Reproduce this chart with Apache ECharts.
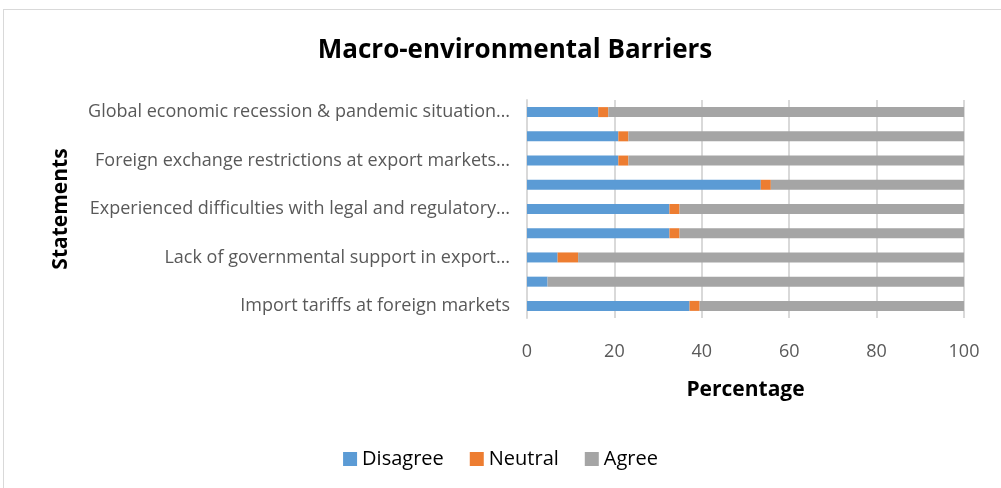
<!DOCTYPE html>
<html lang="en">
<head>
    <meta charset="UTF-8">
    <title>Macro-environmental Barriers</title>
    <script src="https://cdn.jsdelivr.net/npm/echarts@6/dist/echarts.min.js"></script>
    <style>
        body { margin: 0; background: #fff; }
        #frame {
            position: absolute; left: 3px; top: 9px; width: 1010px; height: 490px;
            border: 1px solid #d9d9d9; box-sizing: border-box;
        }
        #chart { position: absolute; left: 0; top: 0; width: 1001px; height: 488px; }
    </style>
</head>
<body>
<div id="frame"></div>
<div id="chart"></div>
<script>
    // statements, bottom to top (Excel only shows every other label)
    var statements = [
        'Import tariffs at foreign markets',
        'Statement 2',
        'Lack of governmental support in export\u2026',
        'Statement 4',
        'Experienced difficulties with legal and regulatory\u2026',
        'Statement 6',
        'Foreign exchange restrictions at export markets\u2026',
        'Statement 8',
        'Global economic recession & pandemic situation\u2026'
    ];
    var disagree = [37.2, 4.7, 7.0, 32.6, 32.6, 53.5, 20.9, 20.9, 16.3];
    var neutral  = [2.3, 0, 4.7, 2.3, 2.3, 2.3, 2.3, 2.3, 2.3];
    var agree    = [60.5, 95.3, 88.3, 65.1, 65.1, 44.2, 76.8, 76.8, 81.4];
    var xTicks = [0, 20, 40, 60, 80, 100];

    var font = 'Open Sans';
    var chart = echarts.init(document.getElementById('chart'));
    chart.setOption({
        animation: false,
        color: ['#5b9bd5', '#ed7d31', '#a5a5a5'],
        title: {
            text: 'Macro-environmental Barriers',
            left: 510, top: 33, textAlign: 'center',
            textStyle: { fontFamily: font, fontSize: 26, fontWeight: 'bold', color: '#000' }
        },
        legend: {
            bottom: 14, left: 'center',
            itemWidth: 14, itemHeight: 14, itemGap: 26, icon: 'rect',
            textStyle: { fontFamily: font, fontSize: 20, color: '#000' },
            data: ['Disagree', 'Neutral', 'Agree']
        },
        grid: { left: 527, right: 37, top: 100, height: 218, containLabel: false },
        xAxis: {
            type: 'value', min: xTicks[0], max: xTicks[xTicks.length - 1], interval: 20,
            name: 'Percentage', nameLocation: 'middle', nameGap: 62,
            nameTextStyle: { fontFamily: font, fontSize: 21, fontWeight: 'bold', color: '#000' },
            axisLine: { show: false }, axisTick: { show: false },
            axisLabel: { fontFamily: font, fontSize: 18, color: '#595959', margin: 25 },
            splitLine: { lineStyle: { color: '#d9d9d9', width: 2 } }
        },
        yAxis: {
            type: 'category', data: statements,
            name: 'Statements', nameLocation: 'middle', nameGap: 455, nameRotate: 90,
            nameTextStyle: { fontFamily: font, fontSize: 21, fontWeight: 'bold', color: '#000' },
            axisLine: { lineStyle: { color: '#d9d9d9', width: 2 } },
            axisTick: { show: false },
            axisLabel: { interval: 1, fontFamily: font, fontSize: 18, color: '#595959', margin: 17 }
        },
        series: [
            { name: 'Disagree', type: 'bar', stack: 'all', data: disagree, barWidth: 10 },
            { name: 'Neutral', type: 'bar', stack: 'all', data: neutral, barWidth: 10 },
            { name: 'Agree', type: 'bar', stack: 'all', data: agree, barWidth: 10 }
        ]
    });
</script>
</body>
</html>
